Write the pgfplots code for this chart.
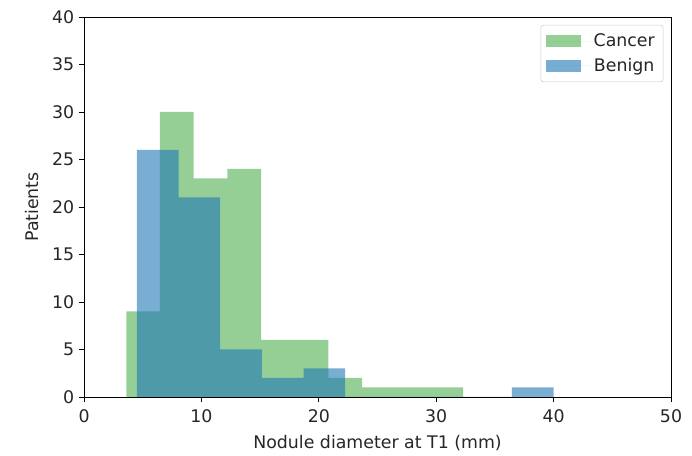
\documentclass[border=0pt]{standalone}
\usepackage{fontspec}
\setmainfont{DejaVu Sans}
\usepackage{pgfplots}
\pgfplotsset{compat=1.18}
\definecolor{mplgreen}{HTML}{2CA02C}
\definecolor{mplblue}{HTML}{1F77B4}
\definecolor{txt}{HTML}{262626}

\begin{document}
\begin{tikzpicture}[x=1pt,y=1pt]
\begin{axis}[
    scale only axis,
    width=422.6pt, height=273.6pt,
    xmin=0, xmax=50, ymin=0, ymax=40,
    xtick={0,10,...,50}, ytick={0,5,...,40},
    tick align=outside, tick pos=left,
    major tick length=3.6pt,
    tick style={black, line width=0.6pt},
    axis line style={black, line width=0.6pt},
    every tick label/.style={font=\fontsize{12.5}{15}\selectfont, text=txt},
    xticklabel style={yshift=-2pt},
    /pgf/number format/assume math mode=true,
    xlabel={Nodule diameter at T1 (mm)},
    ylabel={Patients},
    label style={font=\fontsize{12.5}{15}\selectfont, text=txt},
    xlabel style={yshift=-2pt},
    ylabel style={yshift=3pt},
    legend style={at={(0.987,0.979)}, anchor=north east, draw=black!20, rounded corners=2pt,
        font=\fontsize{12.5}{15}\selectfont, text=txt, inner sep=4pt, row sep=3pt},
    legend image code/.code={\fill[#1, sharp corners] (0pt,-4.3pt) rectangle (25pt,4.3pt);
        \path (0pt,0pt) -- (32pt,0pt);},
  ]
  \coordinate (ll) at (rel axis cs:0,0);
  \coordinate (ur) at (rel axis cs:1,1);
  % Cancer
  \addplot[ybar interval, draw=none, fill=mplgreen, fill opacity=0.5] coordinates {
    (3.60,9) (6.47,30) (9.34,23) (12.21,24) (15.08,6) (17.95,6)
    (20.82,2) (23.69,1) (26.56,1) (29.43,1) (32.30,1)};
  \addlegendentry{Cancer}
  % Benign
  \addplot[ybar interval, draw=none, fill=mplblue, fill opacity=0.6] coordinates {
    (4.50,26) (8.05,21) (11.60,5) (15.15,2) (18.70,3) (22.25,0)
    (25.80,0) (29.35,0) (32.90,0) (36.45,1) (40.00,1)};
  \addlegendentry{Benign}
\end{axis}
\path (ll) ++(-60.5pt,-38.9pt);
\path (ur) ++(15.1pt,12.2pt);
\end{tikzpicture}
\end{document}
